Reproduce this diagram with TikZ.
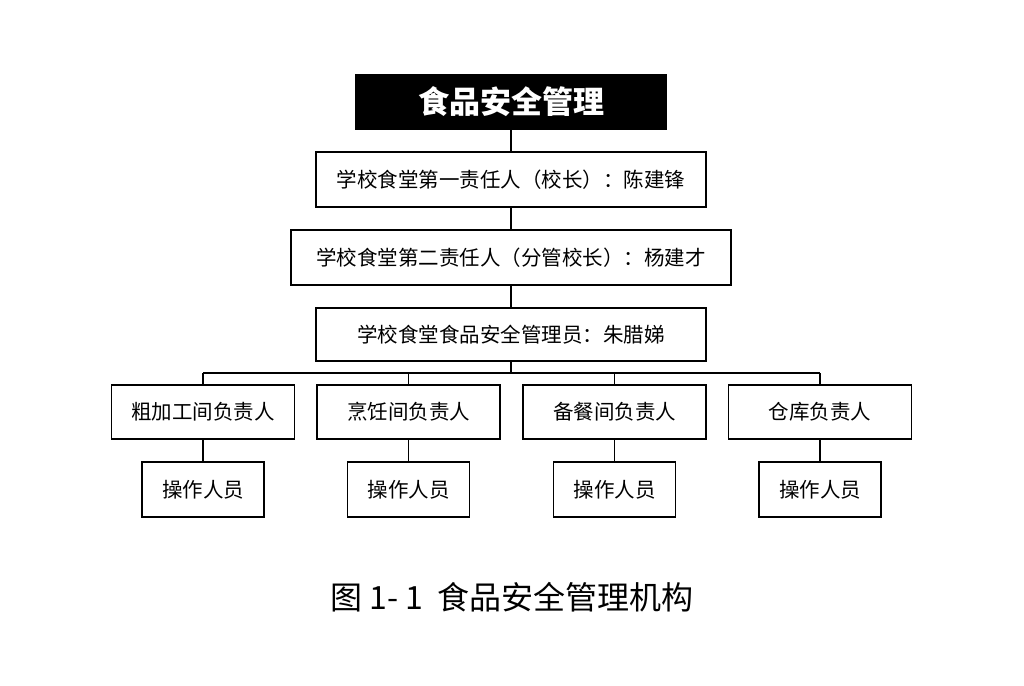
\documentclass[tikz,border=0pt]{standalone}
\usepackage{fontspec}
\setmainfont{Noto Sans CJK SC}
\begin{document}
\begin{tikzpicture}[x=1pt,y=-1pt]
    % styles
    \tikzset{link/.style={line width=1.5pt},
             box/.style={draw,line width=1.5pt,inner sep=0pt,font=\fontsize{20.5}{24}\selectfont},
             head/.style={fill=black,text=white,inner sep=0pt,minimum width=312pt,minimum height=56pt,font=\fontsize{31}{34}\selectfont\bfseries}}
    \useasboundingbox (0,0) rectangle (1024,685);

    % nodes
    \node[head] (top) at (511,102) {食品安全管理};
    \node[box,minimum width=390pt,minimum height=55pt] (L1) at (511,179.5) {学校食堂第一责任人（校长）：陈建锋};
    \node[box,minimum width=440pt,minimum height=55pt] (L2) at (511,257.5) {学校食堂第二责任人（分管校长）：杨建才};
    \node[box,minimum width=390pt,minimum height=53pt] (L3) at (511,334.5) {学校食堂食品安全管理员：朱腊娣};
    \coordinate (bus) at (511,373);

    \foreach \name/\x/\txt in {a/203/粗加工间负责人,b/408.5/烹饪间负责人,c/614.5/备餐间负责人,d/820/仓库负责人}{
        \node[box,minimum width=183pt,minimum height=54pt] (\name) at (\x,412) {\txt};
        \node[box,minimum width=122pt,minimum height=55pt] (\name w) at (\x,489.5) {操作人员};
        \draw[link] (\name) -- (\name w);
        \draw[link] (\name.north) -- (\name.north |- bus);
    }

    % edges
    \draw[link] (top) -- (L1);
    \draw[link] (L1) -- (L2);
    \draw[link] (L2) -- (L3);
    \draw[link] (L3) -- (bus);
    \draw[link] (a.north |- bus) -- (d.north |- bus);

    % caption
    \node[font=\fontsize{32}{36}\selectfont] (cap) at (512,597) {图 1- 1\ \ 食品安全管理机构};
\end{tikzpicture}
\end{document}
